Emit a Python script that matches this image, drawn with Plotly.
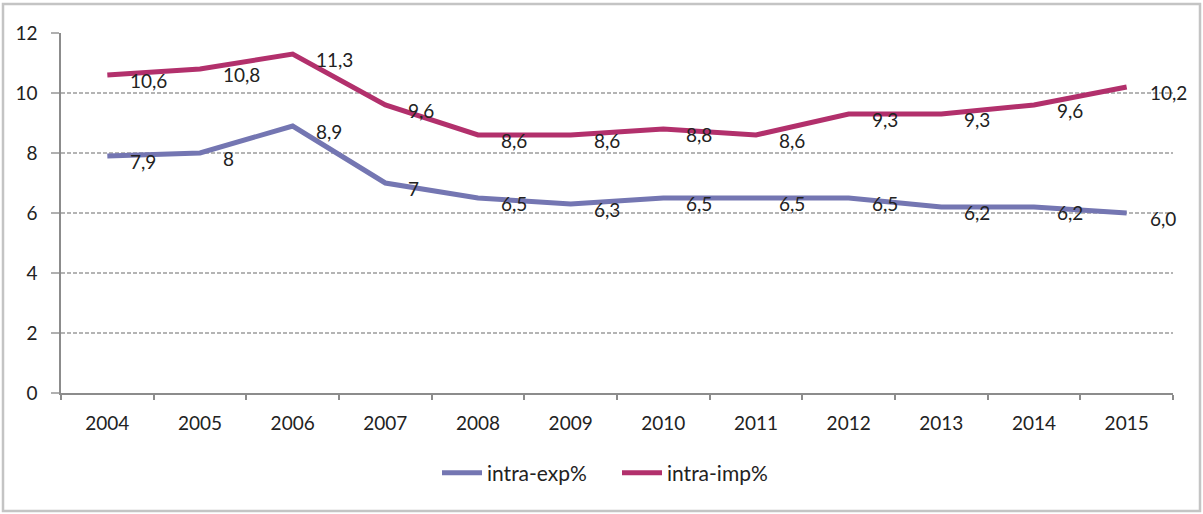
import plotly.graph_objects as go

years = ["2004", "2005", "2006", "2007", "2008", "2009", "2010", "2011", "2012", "2013", "2014", "2015"]
intra_exp = [7.9, 8.0, 8.9, 7.0, 6.5, 6.3, 6.5, 6.5, 6.5, 6.2, 6.2, 6.0]
intra_exp_labels = ["7,9", "8", "8,9", "7", "6,5", "6,3", "6,5", "6,5", "6,5", "6,2", "6,2", "6,0"]
intra_imp = [10.6, 10.8, 11.3, 9.6, 8.6, 8.6, 8.8, 8.6, 9.3, 9.3, 9.6, 10.2]
intra_imp_labels = ["10,6", "10,8", "11,3", "9,6", "8,6", "8,6", "8,8", "8,6", "9,3", "9,3", "9,6", "10,2"]
y_ticks = [0, 2, 4, 6, 8, 10, 12]

W, H = 1203, 514
ML, MR, MT, MB = 61, 30, 33, 121
FONT = "Lato"
TXT = "#222222"
FS = 19
EXP_COLOR = "#7476B2"
IMP_COLOR = "#B2306C"

fig = go.Figure()
fig.add_trace(go.Scatter(x=years, y=intra_exp, mode="lines", name="intra-exp%",
                         line=dict(color=EXP_COLOR, width=5)))
fig.add_trace(go.Scatter(x=years, y=intra_imp, mode="lines", name="intra-imp%",
                         line=dict(color=IMP_COLOR, width=5)))

for vals, labs in ((intra_exp, intra_exp_labels), (intra_imp, intra_imp_labels)):
    for i, (v, t) in enumerate(zip(vals, labs)):
        fig.add_annotation(x=i, y=v, text=t, showarrow=False, xanchor="left", yanchor="middle",
                           xshift=21, yshift=-5, font=dict(family=FONT, size=FS, color=TXT))

pw = W - ML - MR
ph = H - MT - MB
fig.add_shape(type="rect", xref="paper", yref="paper",
              x0=-(ML - 3) / pw, x1=1 + (MR - 3) / pw,
              y0=-(MB - 3) / ph, y1=1 + (MT - 4) / ph,
              line=dict(color="#C4C4C4", width=2.5), fillcolor="rgba(0,0,0,0)", layer="below")

fig.update_layout(
    width=W, height=H,
    margin=dict(l=ML, r=MR, t=MT, b=MB, pad=0),
    paper_bgcolor="white", plot_bgcolor="white",
    font=dict(family=FONT, size=FS, color=TXT),
    showlegend=True,
    legend=dict(orientation="h", x=(437 - ML) / pw, xanchor="left", y=-(473 - (H - MB)) / ph, yanchor="middle",
                font=dict(family=FONT, size=21, color=TXT), itemwidth=40, entrywidth=125,
                bgcolor="rgba(0,0,0,0)"),
    xaxis=dict(type="category", range=[-0.5, len(years) - 0.5], autorange=False,
               showline=True, linecolor="#8C8C8C", linewidth=1.5,
               ticks="outside", ticklen=5, tickcolor="#8C8C8C", tickwidth=1.5,
               tickson="boundaries", showgrid=False, zeroline=False, tickangle=0,
               ticklabelstandoff=12,
               tickfont=dict(family=FONT, size=FS, color=TXT)),
    yaxis=dict(range=[0, 12], autorange=False, tickvals=y_ticks, ticktext=[str(v) for v in y_ticks],
               showline=True, linecolor="#8C8C8C", linewidth=1.5,
               ticks="outside", ticklen=8, tickcolor="#B0B0B0", tickwidth=1.5,
               showgrid=True, gridcolor="#B4B4B4", gridwidth=1.5, griddash="4px,2px",
               ticklabelstandoff=10,
               zeroline=False, tickfont=dict(family=FONT, size=FS, color=TXT)),
)

fig.write_html("out.html", config={"displayModeBar": False},
               post_script="document.body.style.margin='0px';")
